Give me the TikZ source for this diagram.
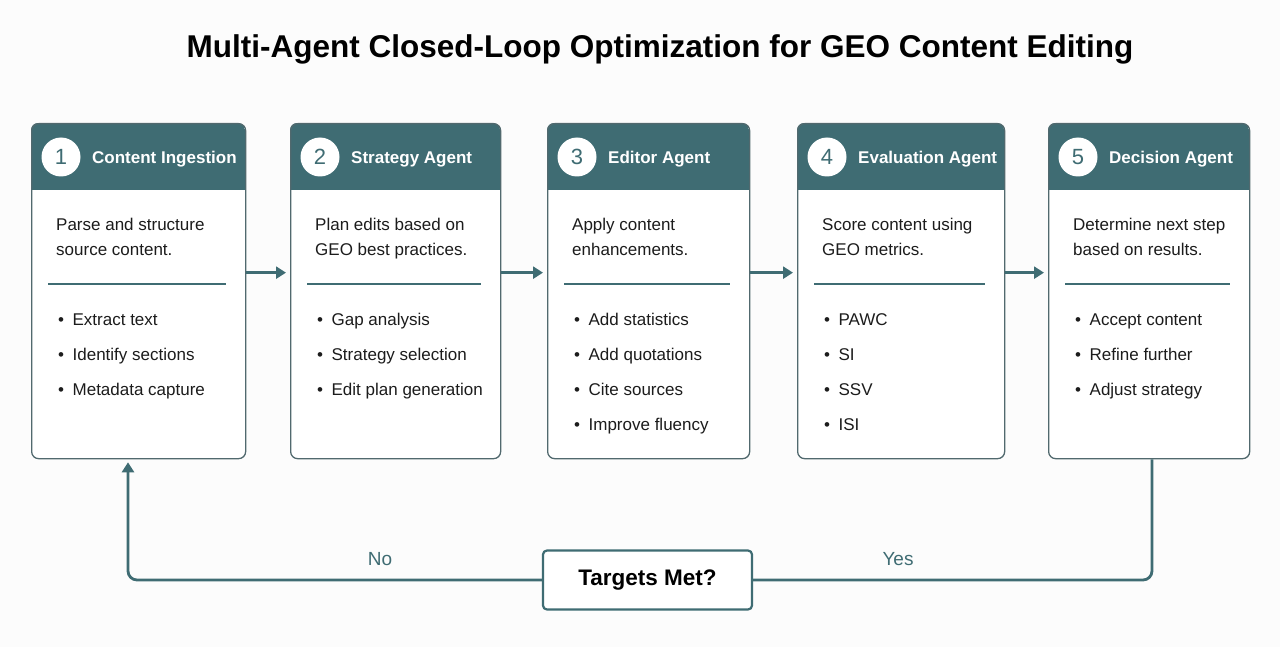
\documentclass[tikz,border=0pt]{standalone}
\usepackage{fontspec}
\setmainfont{Liberation Sans}
\usetikzlibrary{arrows.meta}
\definecolor{teal1}{HTML}{3F6C73}
\definecolor{bord}{HTML}{51696E}
\definecolor{txt}{HTML}{1C1C1C}
\definecolor{bg}{HTML}{FCFCFC}

\tikzset{
  box/.style={draw=bord, line width=1.3pt, rounded corners=7pt, inner sep=0pt},
  numc/.style={circle, fill=white, minimum size=39pt, inner sep=0pt, text=teal1, font=\fontsize{22}{26}\selectfont},
  htitle/.style={anchor=base west, text=white, inner sep=0pt, font=\fontsize{17}{21}\selectfont\bfseries},
  desc/.style={anchor=base west, text=txt, inner sep=0pt, font=\fontsize{17}{21}\selectfont},
  divider/.style={draw=teal1, line width=1.1pt},
  flow/.style={draw=teal1, line width=2.8pt},
  arr/.style={flow, -{Triangle[length=10pt,width=12pt]}},
  lbl/.style={anchor=base, text=teal1, inner sep=0pt, font=\fontsize{19}{23}\selectfont},
}

\newcommand\agent[8]{%
  \pgfmathsetmacro\bw{#3-#2}%
  \begin{scope}
    \clip[rounded corners=7pt] (#2,123) rectangle (#3,458);
    \fill[white] (#2,123) rectangle (#3,458);
    \fill[teal1] (#2,123) rectangle (#3,190);
  \end{scope}
  \node[box, anchor=north west, minimum width=\bw pt, minimum height=335pt] (#1) at (#2,123) {};
  \node[numc] (#1-n) at (#2+30,157) {#4};
  \node[htitle] (#1-t) at (#2+61,163.5) {#5};
  \node[desc] (#1-d1) at (#2+25,231) {#6};
  \node[desc] (#1-d2) at (#2+25,256) {#7};
  \draw[divider] (#2+17,284) -- (#3-19,284);
  \foreach \t [count=\i] in {#8}
    \node[desc] (#1-b\i) at (#2+27,325+35*\i-35) {•\hspace{0.5em}\t};
}

\begin{document}
\begin{tikzpicture}[x=1pt,y=-1pt]
\useasboundingbox (0,0) rectangle (1280,647);
\fill[bg] (0,0) rectangle (1280,647);

\node[anchor=base, inner sep=0pt, text=black, font=\fontsize{31.5}{36}\selectfont\bfseries] (title) at (660,58) {Multi-Agent Closed-Loop Optimization for GEO Content Editing};

\agent{b1}{31}{245}{1}{Content Ingestion}{Parse and structure}{source content.}{Extract text,Identify sections,Metadata capture}
\agent{b2}{290}{500}{2}{Strategy Agent}{Plan edits based on}{GEO best practices.}{Gap analysis,Strategy selection,Edit plan generation}
\agent{b3}{547}{749}{3}{Editor Agent}{Apply content}{enhancements.}{Add statistics,Add quotations,Cite sources,Improve fluency}
\agent{b4}{797}{1004}{4}{Evaluation Agent}{Score content using}{GEO metrics.}{PAWC,SI,SSV,ISI}
\agent{b5}{1048}{1249}{5}{Decision Agent}{Determine next step}{based on results.}{Accept content,Refine further,Adjust strategy}

\draw[arr] ([yshift=18.5pt]b1.east) -- ([yshift=18.5pt,xshift=-4pt]b2.west);
\draw[arr] ([yshift=18.5pt]b2.east) -- ([yshift=18.5pt,xshift=-4pt]b3.west);
\draw[arr] ([yshift=18.5pt]b3.east) -- ([yshift=18.5pt,xshift=-4pt]b4.west);
\draw[arr] ([yshift=18.5pt]b4.east) -- ([yshift=18.5pt,xshift=-4pt]b5.west);

\node[draw=teal1, line width=2.2pt, rounded corners=4pt, fill=white, minimum width=209pt, minimum height=59pt, inner sep=0pt, font=\fontsize{22.5}{26}\selectfont\bfseries, text=black] (tm) at (647.5,580) {Targets Met?};

\draw[flow, rounded corners=9pt] ([xshift=104pt]b5.south west) |- (tm.east);
\draw[arr, rounded corners=9pt] (tm.west) -| ([xshift=97pt,yshift=-3pt]b1.south west);

\node[lbl] (no) at (380,565) {No};
\node[lbl] (yes) at (898,565) {Yes};
\end{tikzpicture}
\end{document}
